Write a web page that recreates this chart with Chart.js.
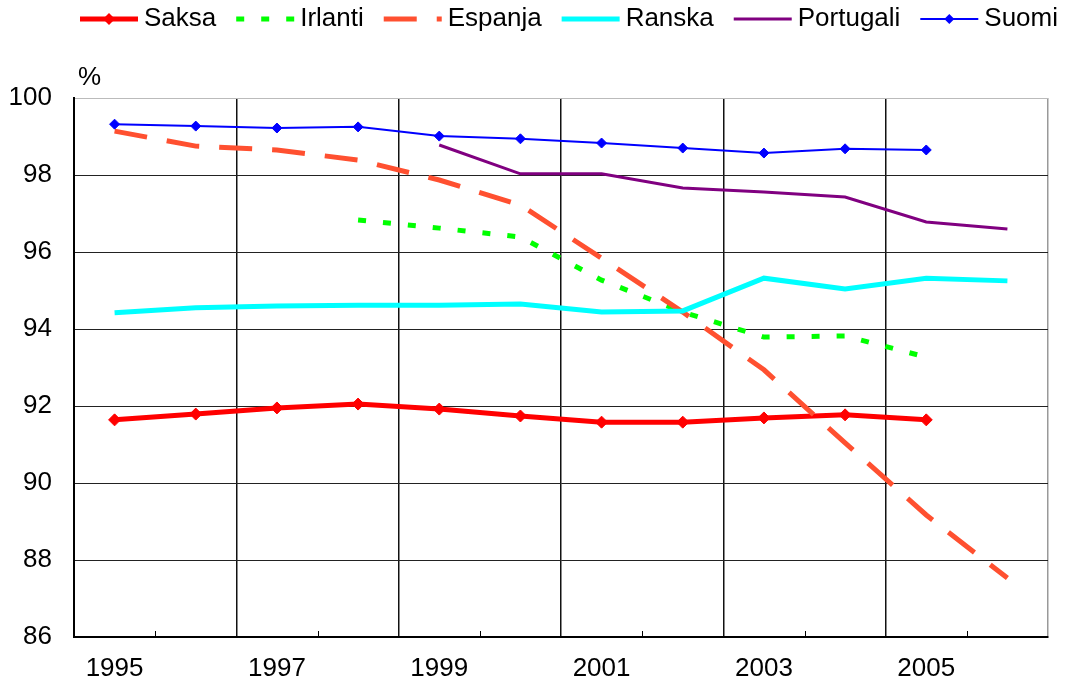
<!DOCTYPE html>
<html>
<head>
<meta charset="utf-8">
<script src="https://cdn.jsdelivr.net/npm/chart.js@4"></script>
<style>
  html, body { margin: 0; padding: 0; background: #fff; }
  #wrap { width: 1075px; height: 685px; }
</style>
</head>
<body>
<div id="wrap"><canvas id="chart" width="1075" height="685"></canvas></div>
<script>
// vuodet ja sarjat (luettu kuvasta)
const years = ['1995','1996','1997','1998','1999','2000','2001','2002','2003','2004','2005','2006'];
const saksa     = [91.64, 91.79, 91.95, 92.05, 91.92, 91.74, 91.58, 91.58, 91.69, 91.77, 91.64, null];
const irlanti   = [null, null, null, 96.83, 96.62, 96.39, 95.27, 94.44, 93.79, 93.82, 93.27, null];
const espanja   = [99.14, 98.75, 98.65, 98.39, 97.87, 97.22, 95.84, 94.44, 92.94, 91.04, 89.17, 87.53];
const ranska    = [94.42, 94.55, 94.60, 94.62, 94.62, 94.65, 94.44, 94.47, 95.32, 95.04, 95.32, 95.25];
const portugali = [null, null, null, null, 98.78, 98.03, 98.03, 97.66, 97.56, 97.43, 96.78, 96.60];
const suomi     = [99.32, 99.27, 99.22, 99.25, 99.01, 98.94, 98.83, 98.70, 98.57, 98.68, 98.65, null];
const yTicks = [86, 88, 90, 92, 94, 96, 98, 100];

const FONT = '"Liberation Sans", Arial, sans-serif';
const FS = 26;

// piirretään oma selite ylös (viivanäyte + teksti)
const legendPlugin = {
  id: 'ownLegend',
  afterDraw(chart) {
    const ctx = chart.ctx;
    const sets = chart.data.datasets;
    ctx.save();
    ctx.font = FS + 'px ' + FONT;
    const sample = 58, textGap = 6, x0 = 80, x1 = 1058, yc = 19;
    const widths = sets.map(d => ctx.measureText(d.label).width);
    const used = widths.reduce((a, b) => a + b, 0) + sets.length * (sample + textGap);
    const gap = (x1 - x0 - used) / (sets.length - 1);
    let x = x0;
    sets.forEach((d, i) => {
      ctx.strokeStyle = d.borderColor;
      ctx.lineWidth = d.borderWidth;
      ctx.setLineDash(d.borderDash || []);
      ctx.beginPath();
      ctx.moveTo(x, yc);
      ctx.lineTo(x + sample, yc);
      ctx.stroke();
      ctx.setLineDash([]);
      if (d.pointRadius > 0) {
        const r = d.pointRadius, cx = x + sample / 2;
        ctx.fillStyle = d.pointBackgroundColor;
        ctx.beginPath();
        ctx.moveTo(cx, yc - r);
        ctx.lineTo(cx + r, yc);
        ctx.lineTo(cx, yc + r);
        ctx.lineTo(cx - r, yc);
        ctx.closePath();
        ctx.fill();
      }
      ctx.fillStyle = '#000';
      ctx.textBaseline = 'middle';
      ctx.textAlign = 'left';
      ctx.fillText(d.label, x + sample + textGap, yc);
      x += sample + textGap + widths[i] + gap;
    });
    ctx.restore();
  }
};

// "%" y-akselin yläpuolelle ja pienet sisäpuoliset väliviivat x-akselille
const extrasPlugin = {
  id: 'extras',
  afterDraw(chart) {
    const ctx = chart.ctx, area = chart.chartArea, xs = chart.scales.x;
    ctx.save();
    ctx.font = FS + 'px ' + FONT;
    ctx.fillStyle = '#000';
    ctx.textAlign = 'left';
    ctx.textBaseline = 'alphabetic';
    ctx.fillText('%', area.left + 4, area.top - 13);
    ctx.strokeStyle = '#000';
    ctx.lineWidth = 1;
    for (let i = 1; i < years.length; i += 2) {
      const x = Math.round((xs.getPixelForTick(i - 1) + xs.getPixelForTick(i)) / 2) + 0.5;
      ctx.beginPath();
      ctx.moveTo(x, area.bottom);
      ctx.lineTo(x, area.bottom - 6);
      ctx.stroke();
    }
    ctx.restore();
  }
};

const series = [
  { label: 'Saksa', data: saksa, color: '#ff0000', width: 5, dash: [], r: 6 },
  { label: 'Irlanti', data: irlanti, color: '#00ff00', width: 5, dash: [8, 17], r: 0 },
  { label: 'Espanja', data: espanja, color: '#ff5030', width: 5, dash: [33, 20], r: 0 },
  { label: 'Ranska', data: ranska, color: '#00ffff', width: 5, dash: [], r: 0 },
  { label: 'Portugali', data: portugali, color: '#800080', width: 3, dash: [], r: 0 },
  { label: 'Suomi', data: suomi, color: '#0000ff', width: 2, dash: [], r: 5 }
];

new Chart(document.getElementById('chart'), {
  type: 'line',
  data: {
    labels: years,
    datasets: series.map((s, i) => ({
      label: s.label,
      data: s.data,
      borderColor: s.color,
      backgroundColor: s.color,
      borderWidth: s.width,
      borderDash: s.dash,
      pointRadius: s.r,
      pointHoverRadius: s.r,
      pointStyle: 'rectRot',
      pointBackgroundColor: s.color,
      pointBorderColor: s.color,
      pointBorderWidth: 1,
      tension: 0,
      fill: false,
      order: series.length - i
    }))
  },
  options: {
    responsive: false,
    devicePixelRatio: 1,
    animation: false,
    layout: { padding: { top: 98, left: 10, right: 27, bottom: 2 } },
    plugins: {
      legend: { display: false },
      tooltip: { enabled: false }
    },
    scales: {
      x: {
        type: 'category',
        offset: true,
        afterFit: axis => { axis.height = 46; },
        border: { color: '#000', width: 2 },
        grid: {
          offset: true,
          drawTicks: false,
          lineWidth: 1.5,
          color: ctx => {
            if (ctx.index === undefined) return '#999';
            return (ctx.index > 0 && ctx.index % 2 === 0) ? '#111' : 'rgba(0,0,0,0)';
          }
        },
        ticks: {
          autoSkip: false,
          maxRotation: 0,
          padding: 16,
          color: '#000',
          font: { family: FONT, size: FS },
          callback: (v, i) => (i % 2 === 0 ? years[i] : '')
        }
      },
      y: {
        min: yTicks[0],
        max: yTicks[yTicks.length - 1],
        afterFit: axis => { axis.width = 64; },
        border: { color: '#000', width: 2 },
        grid: {
          drawTicks: false,
          lineWidth: 1,
          color: ctx => (ctx.tick && ctx.tick.value === 100 ? '#bbb' : '#222')
        },
        afterBuildTicks: axis => { axis.ticks = yTicks.map(v => ({ value: v })); },
        ticks: {
          padding: 22,
          color: '#000',
          font: { family: FONT, size: FS }
        }
      }
    }
  },
  plugins: [legendPlugin, extrasPlugin]
});
</script>
</body>
</html>
